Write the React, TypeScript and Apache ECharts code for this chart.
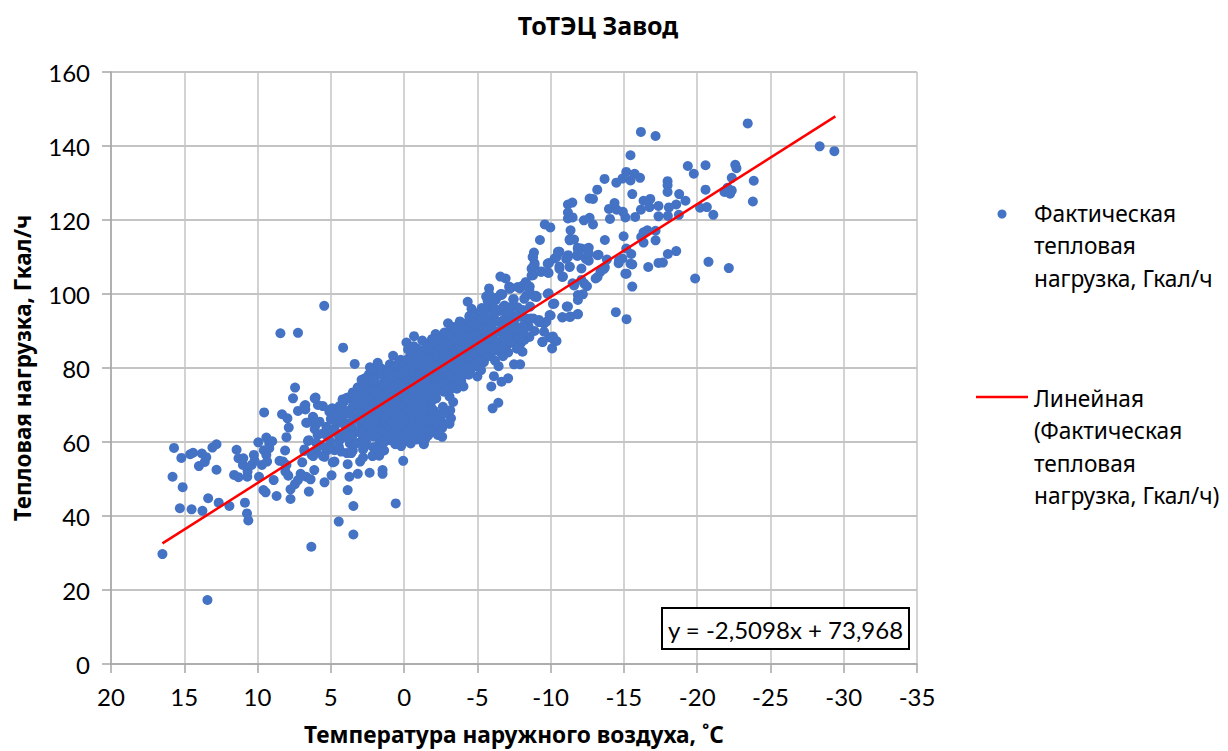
import React, { useEffect, useRef } from "react";
import * as echarts from "echarts";

const chartTitle = "ТоТЭЦ Завод";
const xAxisTitle = "Температура наружного воздуха, ˚C";
const yAxisTitle = "Тепловая нагрузка, Гкал/ч";
const scatterName = "Фактическая тепловая нагрузка, Гкал/ч";
const trendName = "Линейная (Фактическая тепловая нагрузка, Гкал/ч)";
const scatterLegendLines = "Фактическая\nтепловая\nнагрузка, Гкал/ч";
const trendLegendLines = "Линейная\n(Фактическая\nтепловая\nнагрузка, Гкал/ч)";
const equation = "y = -2,5098x + 73,968";

const warmTail: number[][] = [
  [5.45,96.8],[8.44,89.4],[7.24,89.5],[4.16,85.5],[3.37,81.1],[16.49,29.7],[13.42,17.3],[6.33,31.7],[3.46,35.0],[4.46,38.5],
  [10.63,38.8],[10.72,40.7],[10.86,43.6],[15.3,42.1],[14.5,41.8],[13.76,41.4],[13.37,44.8],[12.65,43.6],[11.92,42.7],[15.11,47.8],
  [15.8,50.6],[15.7,58.4],[15.2,55.7],[14.6,56.7],[14.4,57.1],[14.0,53.5],[13.8,56.9],[13.6,54.6],[13.5,55.9],[13.08,58.5],
  [12.8,59.4],[12.8,52.5],[11.43,57.9],[11.6,51.1],[11.3,50.5],[11.3,55.6],[11.0,53.8],[10.7,50.6],[10.68,52.0],[10.97,55.6],
  [10.4,53.8],[10.25,56.5],[9.95,59.9],[9.4,61.2],[9.2,59.6],[9.55,68.0],[9.57,57.8],[9.4,56.5],[9.35,54.7],[9.7,53.8],
  [9.9,50.6],[8.9,49.7],[9.6,47.0],[9.45,46.4],[8.7,45.4],[7.75,44.6],[6.5,46.6],[7.75,47.2],[7.45,48.6],[7.24,49.7],
  [7.06,51.4],[6.68,50.6],[6.38,49.9],[5.43,49.1],[4.95,51.0],[6.13,52.4],[6.95,54.5],[7.9,50.9],[8.1,52.0],[8.03,53.8],
  [8.5,54.9],[8.26,54.7],[8.12,57.7],[8.03,61.3],[7.87,63.9],[7.96,66.4],[8.33,67.5],[7.58,71.8],[7.44,74.7],[7.24,68.4],
  [6.74,70.0],[6.74,68.8],[6.6,65.2],[6.04,72.0],[5.88,70.0],[5.54,69.7],[6.22,66.8],[5.77,65.5],[5.1,68.2],[4.9,69.1],
  [4.3,69.5],[6.5,60.5],[6.8,58.0],[6.3,56.5],[6,57.4],[5.43,56],[5.3,57.6],[4.75,57.8],[4.87,54.5],[4.75,54.7],
  [3.85,54],[3.73,50.6],[3.16,51.4],[3.85,47],[3.46,42.7],[0.57,43.4],[2.35,51.7],[1.47,52.4],[1.47,51.4],[3,54.7],
  [2.8,55.8],[0.06,54.9],[2.15,56.3],[1.7,56.3],[1.36,57.7],[3.5,57.7],[3.9,57],[4.3,57.4],[2.7,58.7],[4.4,60.5],
  [3.7,59.6],[5.9,61.9],[5.3,64.1],[4.75,63.7],[5.55,62.3],[9.2,58.3],[10.2,54.9],[9.0,60.2],[5.0,60.1],[6.1,63.5],
  [5.0,66.2],[4.6,65.4],[4.5,67.8],[4.55,62.2],[5.2,61.3],[5.7,59.1],[6.0,59.8],[5.15,58.8],[4.45,58.7],[3.4,59.3],
  [6.1,71.8],[6.8,69.7],[5.0,68.8],[4.4,69.7],[4.2,71.5],[3.85,72],[3.17,74.7],[2.6,77],[2.26,77.8],[6.56,60.3],
  [6.0,64.8],[5.2,63.4],[4.85,63],[6.68,65.2],[6.2,66.6],[4.5,67.5],[4.3,65.2],[5.54,56.2],[6.2,56.2],[6.8,57.6],
  [2.15,56.2],[2.8,58],[3.6,57],[1.47,58],[0.6,59.4],[-1.35,59.4],
];

const coreA: number[][] = [
  [4.2,66.5],[4.0,63.2],[3.9,68.4],[3.8,60.8],[4.1,70.9],[3.7,65.1],[3.6,71.8],[3.9,61.9],[3.96,71.8],[3.12,74.8],
  [3.4,62.7],[3.3,66.9],[3.2,69.3],[3.1,59.8],[3.5,73.4],[3.0,74.6],[2.9,64.4],[2.8,61.2],[3.2,71.5],[2.7,68.1],
  [2.9,76.8],[2.6,72.9],[2.6,60.1],[2.5,65.7],[2.4,78.3],[2.5,70.2],[2.3,63.1],[2.2,74.9],[2.2,67.6],[2.1,61.5],
  [2.33,80.2],[2.67,77.2],[2.33,76.3],[1.8,81.4],[1.9,78.1],[1.85,72.3],[1.95,69.4],[1.8,65.8],[1.9,62.6],[1.75,59.2],
  [1.6,75.7],[1.55,70.9],[1.5,67.1],[1.45,63.9],[1.6,60.4],[1.3,79.4],[1.25,77.2],[1.3,73.6],[1.2,68.8],[1.25,65.4],
  [1.2,62.0],[1.65,57],[2.1,58.6],[0.97,81],[0.95,78.7],[0.9,75.1],[0.95,71.9],[0.85,69.6],[0.9,66.5],[0.85,63.2],
  [0.95,60.5],[0.75,83.3],[0.6,80.2],[0.55,76.8],[0.6,73.4],[0.55,70.7],[0.5,67.8],[0.6,64.7],[0.55,61.4],[0.5,59.8],
  [0.23,82.2],[0.25,79.4],[0.2,77.1],[0.3,74.2],[0.2,71.3],[0.25,68.6],[0.15,65.9],[0.25,63.1],[0.2,60.6],[0.2,58.9],
  [-0.16,86.9],[-0.27,85],[-0.1,81.8],[-0.15,79.2],[-0.05,76.6],[-0.1,73.8],[-0.15,71.2],[-0.05,68.4],[-0.1,65.6],[-0.15,62.7],
  [-0.1,60.3],[-0.68,88.6],[-0.5,83.9],[-0.45,80.6],[-0.55,78.1],[-0.4,75.4],[-0.5,72.7],[-0.45,69.9],[-0.55,67.2],[-0.4,64.5],
  [-0.5,61.9],[-0.45,59.6],
  [3.7,67.6],[3.55,63.9],[3.5,69.6],[3.55,61.4],[3.0,62.5],[3.05,65.7],[3.0,68],[3.05,70.7],[3.0,72.6],[2.75,63],
  [2.7,65.6],[2.75,70.5],[2.7,74.9],[2.45,61.8],[2.4,64.3],[2.4,67],[2.35,69],[2.4,71.9],[2.4,74],[2.05,64.8],
  [2.05,66.2],[2.0,70.5],[2.05,73.2],[2.05,76.8],[2.0,79.2],[1.7,60.9],[1.65,63.4],[1.65,67.6],[1.65,71.2],[1.7,74],
  [1.6,78.4],[1.6,80],[1.35,60],[1.35,62.8],[1.35,66.2],[1.4,69.4],[1.35,71.9],[1.4,75.1],[1.05,61.6],[1.05,64.6],
  [1.05,67.9],[1.05,70.4],[1.1,72.9],[1.05,76.4],[1.1,79.2],[0.75,62],[0.75,65.3],[0.7,68.1],[0.75,72.2],[0.75,74.5],
  [0.75,77.8],[0.4,60.4],[0.4,62.6],[0.4,66.4],[0.35,69.3],[0.4,72.4],[0.4,75.6],[0.4,78.5],[0.4,81.2],[0.05,61.7],
  [0.05,64.3],[0.05,67.2],[0.05,69.9],[0.05,72.6],[0.05,75.2],[0.05,78.1],[0.05,80.6],[-0.3,60.9],[-0.3,63.4],[-0.3,66.2],
  [-0.3,68.8],[-0.3,71.6],[-0.3,74.4],[-0.3,77.2],[-0.3,79.6],[-0.3,82.6],
];

const coreB: number[][] = [
  [-0.9,85.2],[-0.85,82.6],[-0.95,79.9],[-0.8,77.3],[-0.9,74.6],[-0.85,71.8],[-0.95,69.1],[-0.8,66.3],[-0.9,63.4],[-0.85,60.7],
  [-1.24,87.4],[-1.3,84.6],[-1.25,81.4],[-1.35,78.8],[-1.2,76.1],[-1.3,73.4],[-1.25,70.6],[-1.35,67.7],[-1.2,65.1],[-1.33,59.6],
  [-1.3,62.4],[-1.7,86.3],[-1.65,83.5],[-1.75,80.7],[-1.6,78.2],[-1.7,75.3],[-1.65,72.6],[-1.75,69.8],[-1.6,67],[-1.7,64.2],
  [-1.65,61.8],[-2.15,89.2],[-2.1,86.6],[-2.05,84.1],[-2.15,81.2],[-2.05,78.9],[-2.1,76],[-2.2,73.6],[-2.2,71.8],[-2.05,68.4],
  [-2.1,65.7],[-2.0,63.2],[-2.5,88],[-2.55,85.4],[-2.45,82.7],[-2.55,80.1],[-2.45,77.4],[-2.5,74.8],[-2.65,69.5],[-2.5,66.6],
  [-2.6,63.8],[-2.6,61.4],[-3,92.1],[-3.1,90],[-2.95,87.3],[-3.05,84.8],[-2.95,82],[-3.05,79.3],[-3,76.7],[-3.1,72.3],
  [-3.2,66.4],[-3.15,68.6],[-3.1,64.9],[-3.4,91.1],[-3.45,88.4],[-3.35,85.8],[-3.5,83.1],[-3.4,80.6],[-3.45,78],[-3.35,75.6],
  [-3.35,70.8],[-3.8,92.6],[-3.85,89.9],[-3.75,87.2],[-3.85,84.5],[-3.75,81.8],[-3.8,79.2],[-3.9,76.4],[-4.05,92.1],[-4.34,97.9],
  [-4.7,95.2],[-4.25,89.8],[-4.3,87],[-4.2,84.2],[-4.35,81.7],[-4.2,79.1],[-4.05,75],[-4.6,92.7],[-4.65,90.1],[-4.55,87.4],
  [-4.7,84.8],[-4.6,82.1],[-4.55,79.5],[-5.05,93.6],[-5.1,91],[-5,88.3],[-5.1,85.6],[-5.05,83],[-5.0,80.4],[-5,77.7],
  [-5.6,99.3],[-5.8,101.5],[-5.5,95.2],[-5.55,92.4],[-5.45,89.7],[-5.6,87],[-5.5,84.3],[-5.45,81.6],[-5.95,75],[-6.13,77.8],
  [-6.04,69.1],[-6.43,70.6],[-6.65,76.3],[-7.1,77.2],[-7.5,81],[-7.92,81],[-6.45,80.5],[-6.2,82],[-6.6,99.7],[-7.45,98.6],
  [-7.17,102],[-8.3,102.9],[-6.0,96.7],[-6.1,93.9],[-5.95,91.2],[-6.05,88.6],[-6,85.7],[-5.9,83.4],[-6.5,95.4],[-6.45,92.5],
  [-6.55,89.8],[-6.45,87.1],[-6.5,84.5],[-7.0,94.1],[-7.05,91.3],[-6.95,88.9],[-7,86],[-7.1,84.2],[-7.5,92.7],[-7.45,90.1],
  [-7.55,87.6],[-7.96,86.7],[-8.08,84.4],[-9.43,87.1],[-9.9,88.3],[-10.1,85.3],[-10.4,87.3],[-9.55,92],[-9.2,93],[-8.5,91.2],
  [-10.8,93.7],[-11.1,96.6],[-9.8,100],[-9,99.5],
  [-0.65,61.2],[-0.65,63.7],[-0.65,65.9],[-0.65,68.4],[-0.65,71],[-0.65,73.6],[-0.65,76.2],[-0.65,79],[-0.65,81.7],[-0.65,85.9],
  [-1.05,62.1],[-1.05,64.8],[-1.05,67.4],[-1.05,70],[-1.05,72.6],[-1.05,75.5],[-1.05,78],[-1.05,80.8],[-1.05,83.4],[-1.45,60.9],
  [-1.45,63.3],[-1.45,66],[-1.5,68.9],[-1.45,71.4],[-1.5,74.2],[-1.45,77],[-1.5,79.8],[-1.45,82.4],[-1.5,85.6],[-1.9,62.9],
  [-1.9,66.4],[-1.9,69],[-1.9,71.1],[-1.9,74.6],[-1.9,77.5],[-1.9,79.9],[-1.9,82.6],[-1.9,85.2],[-1.9,87.8],[-2.3,61.9],
  [-2.3,64.6],[-2.3,67.4],[-2.3,75],[-2.3,77.8],[-2.3,80.5],[-2.3,83.2],[-2.3,85.8],[-2.7,65],[-2.75,67.8],[-2.7,73.6],
  [-2.75,76],[-2.7,78.8],[-2.7,81.3],[-2.75,84],[-2.7,86.6],[-2.75,89.6],[-3.2,74.4],[-3.2,78],[-3.2,80.6],[-3.25,83.3],
  [-3.2,86],[-3.2,88.8],[-3.6,76.9],[-3.6,79.4],[-3.6,82.2],[-3.65,85],[-3.6,87.8],[-3.6,90.6],[-3.6,74.4],[-4,78],
  [-4,80.6],[-4.05,83.2],[-4.05,85.9],[-4,88.4],[-4.05,90.8],[-4.4,78.2],[-4.45,80.2],[-4.4,83],[-4.45,85.7],[-4.4,88.4],
  [-4.45,91],[-4.45,94],[-4.8,81],[-4.85,83.6],[-4.8,86.4],[-4.85,89],[-4.8,91.9],[-4.85,94.5],[-5.25,79.4],[-5.25,82.2],
  [-5.3,84.8],[-5.25,87.3],[-5.3,90.4],[-5.25,93.3],[-5.3,96.2],[-5.7,83.1],[-5.7,85.4],[-5.75,88.2],[-5.7,90.7],[-5.75,93.4],
  [-5.7,96],[-5.7,98.2],[-6.2,84.8],[-6.25,87.4],[-6.2,90],[-6.25,92.9],[-6.2,95.4],[-6.25,98.4],[-6.75,83.2],[-6.75,85.8],
  [-6.8,88.2],[-6.7,90.8],[-6.8,93],[-6.75,96.4],[-7.25,86.8],[-7.3,89.4],[-7.25,92],[-7.25,96.4],[-7.7,85.2],[-7.75,88.6],
  [-7.7,91],[-7.75,96.4],[-8.2,87.6],[-8.15,90],[-8.3,93.4],[-8.55,88.4],[-8.6,93.4],
];

const coldBranch: number[][] = [
  [-23.45,146.1],[-16.16,143.8],[-17.16,142.7],[-28.36,139.9],[-29.36,138.6],[-15.45,137.5],[-19.36,134.6],[-20.57,134.8],[-22.6,134.9],[-22.68,134],
  [-19.77,132.5],[-15.16,133],[-15.73,132.5],[-16.1,131.4],[-15.45,130.7],[-14.9,131.2],[-14.48,130.1],[-13.68,131.1],[-13.18,128.2],[-17.98,130.5],
  [-17.98,129.4],[-17.98,127.6],[-18.77,127],[-15.57,127],[-22.36,131.4],[-23.86,130.6],[-20.57,128.2],[-22.07,128.7],[-22.36,128],[-21.86,127.6],
  [-22.25,127.1],[-23.8,125],[-19.2,125.2],[-18.57,124.2],[-18.07,123.4],[-17.36,123.8],[-16.8,125.7],[-16.34,125.2],[-16.75,123.5],[-16.16,122.8],
  [-20.2,123.3],[-20.66,123.5],[-21.1,121.4],[-18.75,121.4],[-18,121.1],[-17.36,121],[-15.77,120.8],[-15.1,120.7],[-14.93,122.2],[-14.5,122.8],
  [-14.36,124.6],[-13.98,123],[-14.05,120.3],[-12.66,125.8],[-12.89,125.7],[-11.48,124.7],[-11.18,124.2],[-11.18,122],[-11.18,120.4],[-11.5,120.7],
  [-12.27,119.9],[-12.66,120.6],[-12.89,118.8],[-9.6,118.8],[-9.98,118],[-11.36,117.2],[-11.3,114.8],[-11.6,114.7],[-9.27,114.6],[-13.7,114.6],
  [-14.98,115.6],[-16.6,117.2],[-16.34,116.7],[-17.16,117.1],[-16.18,115.4],[-16.34,113.9],[-17.16,114.5],[-18.57,111.6],[-18,110.8],[-17.66,108.5],
  [-17.36,108.4],[-16.66,107.3],[-15.57,108],[-15.5,110.8],[-15.16,112.3],[-14.9,109.6],[-14.64,108.3],[-15.18,105.5],[-15.57,102],[-20.77,108.7],
  [-22.16,107],[-19.86,104.2],[-14.45,95.1],[-15.18,93.2],[-13.84,109.3],[-13.27,110.6],[-12.6,112.5],[-12.6,109],[-12.1,112.3],[-11.86,112.5],
  [-11.82,110.3],[-11.18,110],[-10.57,111.4],[-10.27,109.6],[-9.89,108.4],[-9.36,106.1],[-9.86,105.7],[-8.86,111.2],[-8.8,109.9],[-8.9,108.3],
  [-8.75,107.1],[-8.8,105.1],[-10.6,107.4],[-11.3,107.4],[-12.1,106.9],[-10.84,104.7],[-11.5,102.9],[-12.1,103.8],[-12.48,102.1],[-13.07,104.2],
  [-13.45,106.5],[-13.7,107.2],[-12.2,99.9],[-11.86,99.7],[-11.86,98.4],[-11.18,96.6],[-10.16,97.3],[-9.86,100.2],[-11.86,94.6],[-11.36,93.9],
  [-10.8,93.7],[-9.93,94.3],[-9.25,92.5],[-9.7,92.5],[-9.55,89.8],[-10.16,88.5],[-8.07,88],[-6.93,104.2],[-6.57,104.7],[-7.3,101.7],
  [-8.3,103.1],[-8.57,102],[-7.9,101.5],[-8.9,99.3],[-7.48,98.6],[-6.7,99.9],[-8.36,99.6],[-6.9,96.6],[-8.1,95.7],[-7.25,94.8],
  [-8.6,96.6],[-7.7,93.9],[-8.8,93.4],[-8.07,91.2],[-7,92.1],[-8.9,90],
  [-8.77,110],[-8.9,107.7],[-8.7,106.8],[-9.35,106],[-9.8,105.8],[-8.7,105],[-8.3,103.2],[-8.1,102.3],[-7.2,101.4],[-7.75,101.9],
  [-8.55,101],[-5.8,100],[-6.3,99],[-6.6,100],[-9.05,99.2],[-4.6,96],[-4.7,94.2],[-5.5,95.6],[-6.2,96],[-6.85,96.9],
  [-8.2,98.7],[-10.25,97.4],[-11.85,94.5],[-11.3,93.8],[-10,94.2],[-9.2,92.4],[-10.25,87.5],[-9.45,87],[-8,88],[-7.5,90.2],
  [-8,93.8],[-10.6,111.4],[-10.4,110],[-9.8,108.2],[-11.2,110.5],[-11.85,112.3],[-11.3,114.5],[-11.95,110.5],[-12.4,109.5],[-10.6,106.8],
  [-10.8,104.6],[-11.3,107.3],[-11.85,110.9],[-12.5,112.3],[-12.6,110.9],[-13.2,110.5],[-10.5,111.4],[-11.06,109.5],[-13.2,104.6],[-13.65,106.8],
  [-13.4,106],[-14.66,109],[-15.45,108.2],[-15.1,105.5],[-12.3,102.8],[-11.6,102.3],
];

const trendPoints: number[][] = [[16.49,32.6],[-29.43,148]];
const xMin = -35, xMax = 20, xStep = 5;
const yMin = 0, yMax = 160, yStep = 20;
const textColor = "#000000";
const uiFont = "'Noto Sans', sans-serif";
const digitFont = "Lato, 'Noto Sans', sans-serif";

export default function App() {
  const ref = useRef<HTMLDivElement>(null);
  useEffect(() => {
    const chart = echarts.init(ref.current!, undefined, { renderer: "svg" });
    chart.setOption({
      animation: false,
      backgroundColor: "#ffffff",
      textStyle: { fontFamily: uiFont, color: textColor },
      title: {
        text: chartTitle, left: 593, top: 7, textAlign: "center",
        textStyle: { fontFamily: uiFont, fontSize: 25, fontWeight: "bold", color: textColor },
      },
      grid: { left: 111, top: 72, width: 806, height: 592, outerBoundsMode: "none" },
      xAxis: {
        type: "value", min: xMin, max: xMax, interval: xStep, inverse: true,
        name: xAxisTitle, nameLocation: "middle", nameGap: 59,
        nameTextStyle: { fontFamily: uiFont, fontSize: 22.7, fontWeight: "bold", color: textColor },
        axisLine: { show: true, onZero: false, lineStyle: { color: "#a6a6a6", width: 1.5 } },
        axisTick: { show: true, length: 9, lineStyle: { color: "#a6a6a6", width: 1.5 } },
        axisLabel: { fontFamily: digitFont, fontSize: 24, color: textColor, margin: 20 },
        splitLine: { show: true, lineStyle: { color: "#c4c4c4", width: 1.5 } },
      },
      yAxis: {
        type: "value", min: yMin, max: yMax, interval: yStep, position: "left",
        name: yAxisTitle, nameLocation: "middle", nameGap: 77,
        nameTextStyle: { fontFamily: uiFont, fontSize: 22.5, fontWeight: "bold", color: textColor },
        axisLine: { show: true, onZero: false, lineStyle: { color: "#a6a6a6", width: 1.5 } },
        axisTick: { show: true, length: 9, lineStyle: { color: "#a6a6a6", width: 1.5 } },
        axisLabel: { fontFamily: digitFont, fontSize: 24, color: textColor, margin: 21 },
        splitLine: { show: true, lineStyle: { color: "#b0b0b0", width: 1.5 } },
      },
      series: [
        {
          name: scatterName, type: "scatter", symbol: "circle", symbolSize: 10,
          itemStyle: { color: "#4472c4", opacity: 1 },
          data: [...warmTail, ...coreA, ...coreB, ...coldBranch],
        },
        {
          name: trendName, type: "line", showSymbol: false, z: 5,
          lineStyle: { color: "#ff0000", width: 2.5 }, itemStyle: { color: "#ff0000" },
          data: trendPoints,
        },
      ],
      graphic: [
        { type: "circle", shape: { cx: 1002, cy: 214, r: 4.5 }, style: { fill: "#4472c4" } },
        { type: "text", x: 1034, y: 197, style: { text: scatterLegendLines, font: `22.7px ${uiFont}`, fill: textColor, lineHeight: 32.5 } },
        { type: "line", shape: { x1: 976, y1: 397, x2: 1028, y2: 397 }, style: { stroke: "#ff0000", lineWidth: 2.5 } },
        { type: "text", x: 1034, y: 382, style: { text: trendLegendLines, font: `22.7px ${uiFont}`, fill: textColor, lineHeight: 32.5 } },
        { type: "rect", z: 10, shape: { x: 662, y: 608, width: 247, height: 41 }, style: { fill: "#ffffff", stroke: "#000000", lineWidth: 2 } },
        { type: "text", z: 11, x: 785.5, y: 629, style: { text: equation, font: `24px ${digitFont}`, fill: textColor, align: "center", verticalAlign: "middle" } },
      ],
    });
    return () => chart.dispose();
  }, []);
  return <div ref={ref} style={{ position: "fixed", left: 0, top: 0, width: 1228, height: 751 }} />;
}
